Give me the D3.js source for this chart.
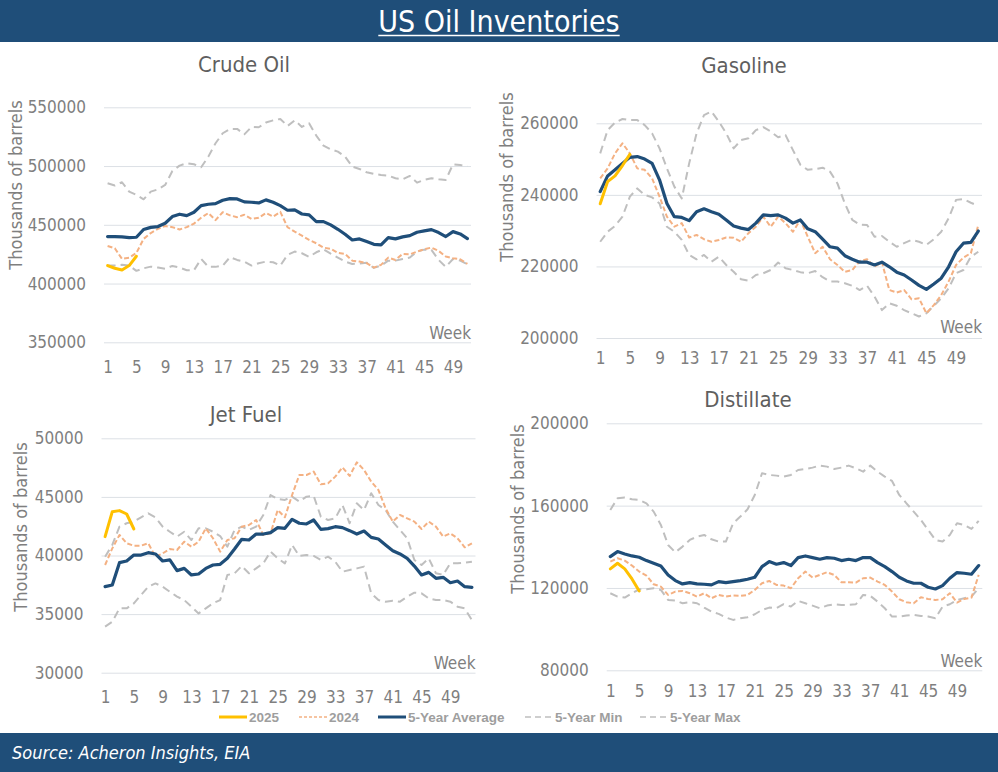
<!DOCTYPE html>
<html><head><meta charset="utf-8">
<script src="https://cdn.jsdelivr.net/npm/d3@7"></script>
<style>
html,body{margin:0;padding:0;background:#fff;}
svg{display:block;}
</style></head><body>
<svg id="chart" width="998" height="772"></svg>
<script>
// ---------------- DATA ----------------
const weeks51 = [1,2,3,4,5,6,7,8,9,10,11,12,13,14,15,16,17,18,19,20,21,22,23,24,25,26,27,28,29,30,31,32,33,34,35,36,37,38,39,40,41,42,43,44,45,46,47,48,49,50,51];
const weeks52 = [1,2,3,4,5,6,7,8,9,10,11,12,13,14,15,16,17,18,19,20,21,22,23,24,25,26,27,28,29,30,31,32,33,34,35,36,37,38,39,40,41,42,43,44,45,46,47,48,49,50,51,52];
const xTickLabels = [1,5,9,13,17,21,25,29,33,37,41,45,49];
const seriesNames = ["2025","2024","5-Year Average","5-Year Min","5-Year Max"];

// Crude Oil
const crudeYTicks = [350000,400000,450000,500000,550000];
const crude2025 = [415300,413000,411600,415300,423200];
const crude2024 = [432000,430000,421000,422000,426000,438000,443000,446500,449000,448000,
  446000,448000,451000,456000,460000,454000,460700,458000,456500,458500,
  455000,456000,460000,457000,461000,448000,444200,440800,437100,434300,
  430600,429500,426100,425200,419500,418700,417300,413600,415900,422100,
  420100,425200,424900,427200,429200,430600,427800,423000,421500,420700,416700];
const crudeAvg = [440000,440000,439700,439100,439400,446000,447800,448500,451300,457000,
  459000,457800,460700,466300,467500,468000,470900,472300,472000,469500,
  469200,468600,471200,469200,466300,462400,462700,459200,458400,452700,
  452700,449900,446200,442000,437100,438000,435700,433400,432900,439100,
  438000,439700,440800,443700,444800,445900,443400,440000,444200,442200,438300];
const crudeMin = [415300,415300,415900,415300,410800,413000,414400,413600,412500,415000,
  413600,411300,411300,421000,414200,414200,415300,422400,420100,418700,
  415300,417300,418700,418100,415300,424400,427200,425800,422700,426600,
  429200,425500,422100,418700,416700,417000,417800,413300,415300,419500,
  419500,420900,422100,427200,428900,428600,420100,414200,420900,419500,416400];
const crudeMax = [485300,483400,486200,478200,475400,471700,478200,480200,483900,495800,
  500400,502400,501500,499000,508000,519400,527900,531600,531600,527000,
  533300,533000,537000,538900,540100,534100,538900,533300,536400,525900,
  517400,514300,512300,508000,499500,497500,494700,493300,492400,491900,
  489600,488700,491600,485900,488200,489600,488700,488200,501500,500900,499800];

// Gasoline
const gasYTicks = [200000,220000,240000,260000];
const gas2025 = [237500,243700,245300,248200,251300];
const gas2024 = [244600,247400,251600,254400,251600,247400,247000,244600,239500,233900,
  231100,232100,228100,228800,227600,226900,227400,228100,228000,226900,
  229300,231100,233900,231100,233900,232100,229700,233000,228300,223700,
  225500,222000,220400,218500,219000,221500,222000,219900,221200,213400,
  212700,213400,210800,211100,206900,209200,212000,215800,220400,222500,
  223700,231600];
const gasAvg = [240900,245300,247000,248800,250500,250700,250000,248800,244200,237600,
  233900,233700,232800,235300,236100,235300,234600,233000,231300,230700,
  230300,232100,234400,234200,234400,233500,232100,233000,230500,229700,
  227600,225500,225100,223000,222000,221200,221200,220400,221200,219900,
  218400,217600,216200,214700,213600,215100,216700,219900,224100,226500,
  226700,229900];
const gasMin = [226900,229700,231300,233900,239500,241800,240000,239300,237600,231100,
  229700,227400,223200,222000,223200,221300,222700,220400,218500,216400,
  216000,217600,218100,219000,221100,219500,219000,218400,218100,218700,
  217000,215800,215800,215300,214600,213400,214600,211600,207800,209700,
  209000,207800,206900,206000,206900,209000,211100,213900,218100,219000,
  222700,224100];
const gasMax = [251600,258100,260200,261200,260900,260900,259500,257200,253000,247400,
  242300,239000,248800,257200,262300,263300,260500,257200,253000,255300,
  255800,258100,258900,257700,256100,256700,252500,248400,247000,247200,
  247600,246500,243200,237600,233000,231700,231600,228300,228500,226900,
  225500,226500,227400,226900,226000,227600,229700,233500,238600,238800,
  237800,236900];

// Jet Fuel
const jetYTicks = [30000,35000,40000,45000,50000];
const jet2025 = [41610,43740,43830,43540,42260];
const jet2024 = [39190,40610,41750,41040,40840,40840,41040,39900,40180,40550,
  40470,41180,40750,41180,42320,41470,40330,41320,41470,42460,
  42600,43030,41750,41890,43880,43260,45160,46870,46870,47160,
  46070,46160,46730,47520,46790,47950,47300,46300,45590,44030,
  42890,43460,43170,42890,42260,42890,42460,41610,41890,41470,
  40700,41040];
const jetAvg = [37340,37480,39390,39530,40040,40040,40240,40130,39530,39620,
  38710,38900,38340,38420,38900,39190,39250,39760,40550,41380,
  41320,41830,41830,41950,42380,42320,43090,42750,42690,43030,
  42230,42290,42460,42380,42120,41830,42090,41550,41410,40900,
  40410,40130,39760,39100,38340,38560,38050,38140,37680,37820,
  37340,37280];
const jetMin = [33930,34350,35490,35490,35920,36630,37340,37620,37340,36910,
  36490,36200,35630,35060,35490,35920,36200,38340,38480,39100,
  38480,38900,39330,40330,39760,39330,40900,39960,40040,39960,
  39620,39900,39470,38620,38760,38900,39050,36770,36200,36060,
  36140,36060,36490,36830,36770,36340,36200,36200,36060,35630,
  35490,34490];
const jetMax = [39900,40900,42460,42750,42890,43260,43600,43260,42460,42030,
  41610,42030,41320,42320,42320,42030,41660,40750,42180,42460,
  42180,42460,43460,45160,44820,44740,45020,44600,45020,45080,
  43310,43030,43170,44310,42750,44450,43880,45310,44310,43880,
  42890,42180,41470,39620,39190,39760,38480,38340,39330,39330,
  39390,39470];

// Distillate
const distYTicks = [80000,120000,160000,200000];
const dist2025 = [129250,132000,129250,124390,118560];
const dist2024 = [132810,134430,133300,130870,127950,126010,121800,120670,116620,118240,
  118560,117430,115810,117430,115000,116620,115810,116300,116130,116620,
  119050,122290,123420,121480,121150,119860,124720,127950,125040,126340,
  127630,126340,122770,122770,122610,124720,125040,123100,121480,118240,
  114520,113060,112570,115490,114680,114190,114520,117430,112900,114680,
  115330,126340];
const distAvg = [135240,137670,136530,135560,134920,133300,132000,130710,126340,123580,
  121960,122610,121960,121800,121480,123100,122610,123100,123580,124230,
  125200,130380,132810,131520,132330,130870,134760,135560,134760,133940,
  134760,134430,133300,133940,133300,134760,134760,132330,130380,127950,
  125200,123420,122290,122290,120340,119530,121150,124720,127470,127140,
  126660,130870];
const distMin = [117430,115810,115330,117430,119370,119370,119860,119050,114190,113870,
  112570,113060,112570,110470,108530,107400,105620,104480,105290,105780,
  107230,109340,110470,110150,112090,110960,113710,112570,111440,110150,
  111440,112090,111770,111770,112090,116620,116130,113380,110150,106100,
  106100,106590,106910,106420,106100,105290,110960,112090,114190,115000,
  115810,119860];
const distMax = [157910,163580,163900,163090,162760,161140,157100,150620,140910,137350,
  140100,143340,144950,145760,143660,142530,142530,151430,154670,158230,
  165190,175720,174910,174580,174100,174910,177330,177820,178470,179440,
  178950,177820,178470,179440,178140,176520,179440,176520,174100,172000,
  165190,161140,157100,153050,148190,143340,142530,145760,151430,150620,
  148680,152560];

// ---------------- STYLE ----------------
const COND = "'DejaVu Sans Condensed','DejaVu Sans',sans-serif";
const NAVY = "#1F4E79";
const styles = {
  "2025": {color:"#FFC000", width:3, dash:null},
  "2024": {color:"#F4B183", width:2, dash:"5,2.5"},
  "5-Year Average": {color:NAVY, width:3.2, dash:null},
  "5-Year Min": {color:"#BFBFBF", width:2, dash:"8,5"},
  "5-Year Max": {color:"#BFBFBF", width:2, dash:"8,5"}
};

const svg = d3.select("#chart");
svg.append("rect").attr("width",998).attr("height",772).attr("fill","#fff");

// header
svg.append("rect").attr("x",0).attr("y",0).attr("width",998).attr("height",42).attr("fill",NAVY);
const title = svg.append("text").attr("x",499).attr("y",32).attr("text-anchor","middle")
  .attr("font-family",COND).style("font-stretch","condensed").attr("font-size",30).attr("fill","#fff")
  .text("US Oil Inventories");
const tl = title.node().getComputedTextLength();
svg.append("line").attr("x1",499-tl/2).attr("x2",499+tl/2).attr("y1",35.5).attr("y2",35.5)
  .attr("stroke","#fff").attr("stroke-width",1.5);

// footer
svg.append("rect").attr("x",0).attr("y",733).attr("width",998).attr("height",39).attr("fill",NAVY);
svg.append("text").attr("x",12).attr("y",759).attr("font-family",COND).style("font-stretch","condensed")
  .attr("font-style","italic").attr("font-size",18).attr("fill","#fff").text("Source: Acheron Insights, EIA");

const panels = [
  {title:"Crude Oil", weeks:weeks51, yTicks:crudeYTicks,
   series:[crude2025,crude2024,crudeAvg,crudeMin,crudeMax],
   x0:104, x1:471, yTop:107.3, yBot:342.3, titleX:244, titleY:72, ylabX:15, ylabY:185, xPad:19, weekY:339},
  {title:"Gasoline", weeks:weeks52, yTicks:gasYTicks,
   series:[gas2025,gas2024,gasAvg,gasMin,gasMax],
   x0:596.5, x1:982, yTop:123.3, yBot:338, titleX:744, titleY:73, ylabX:506, ylabY:177, xPad:14, weekY:333},
  {title:"Jet Fuel", weeks:weeks52, yTicks:jetYTicks,
   series:[jet2025,jet2024,jetAvg,jetMin,jetMax],
   x0:101.5, x1:475.5, yTop:438.3, yBot:672.7, titleX:246, titleY:422, ylabX:20, ylabY:527, xPad:18, weekY:669},
  {title:"Distillate", weeks:weeks52, yTicks:distYTicks,
   series:[dist2025,dist2024,distAvg,distMin,distMax],
   x0:606.7, x1:982.3, yTop:423.3, yBot:670.3, titleX:748, titleY:407, ylabX:517, ylabY:509, xPad:15, weekY:667}
];

function drawPanel(p){
  const g = svg.append("g");
  const x = d3.scalePoint().domain(p.weeks).range([p.x0,p.x1]).padding(0.5);
  const y = d3.scaleLinear().domain([p.yTicks[0], p.yTicks[p.yTicks.length-1]]).range([p.yBot,p.yTop]);

  const ya = g.append("g").attr("transform",`translate(${p.x0},0)`)
    .call(d3.axisLeft(y).tickValues(p.yTicks).tickSize(-(p.x1-p.x0)).tickPadding(18).tickFormat(d3.format("d")));
  ya.select(".domain").remove();
  ya.selectAll(".tick line").attr("stroke","#DCE0E5").attr("stroke-width",1);
  ya.attr("font-family",COND).attr("font-size",17).style("font-stretch","condensed");
  ya.selectAll(".tick text").attr("fill","#7F7F7F");

  const xa = g.append("g").attr("transform",`translate(0,${p.yBot})`)
    .call(d3.axisBottom(x).tickValues(xTickLabels).tickSize(0).tickPadding(p.xPad));
  xa.select(".domain").remove();
  xa.attr("font-family",COND).attr("font-size",17).style("font-stretch","condensed");
  xa.selectAll(".tick text").attr("fill","#7F7F7F");

  g.append("text").attr("x",p.titleX).attr("y",p.titleY).attr("text-anchor","middle")
    .attr("font-family",COND).style("font-stretch","condensed").attr("font-size",22).attr("fill","#5F5F5F").text(p.title);
  g.append("text").attr("transform",`translate(${p.ylabX},${p.ylabY}) rotate(-90)`)
    .attr("text-anchor","middle").attr("dominant-baseline","central")
    .attr("font-family",COND).style("font-stretch","condensed").attr("font-size",18).attr("fill","#7F7F7F")
    .text("Thousands of barrels");
  g.append("text").attr("x",p.x1).attr("y",p.weekY).attr("text-anchor","end")
    .attr("font-family",COND).style("font-stretch","condensed").attr("font-size",17).attr("fill","#7F7F7F").text("Week");

  const line = d3.line().x((d,i)=>x(p.weeks[i])).y(d=>y(d));
  const order = [4,3,1,2,0];
  order.forEach(si=>{
    const st = styles[seriesNames[si]];
    g.append("path").datum(p.series[si]).attr("d",line)
      .attr("fill","none").attr("stroke",st.color).attr("stroke-width",st.width)
      .attr("stroke-dasharray",st.dash).attr("stroke-linejoin","round")
      .attr("stroke-linecap", st.dash ? "butt" : "round");
  });
}
panels.forEach(drawPanel);

// legend
const legendPos = [219, 299, 378, 525, 640];
const lg = svg.append("g");
seriesNames.forEach((name,i)=>{
  const st = styles[name];
  const lx = legendPos[i];
  lg.append("line").attr("x1",lx).attr("x2",lx+28).attr("y1",717).attr("y2",717)
    .attr("stroke",st.color).attr("stroke-width",st.dash? 1.5 : 3).attr("stroke-dasharray", st.dash ? (name==="2024"?"3,2":"6,4") : null);
  lg.append("text").attr("x",lx+30).attr("y",722).attr("font-family","'Liberation Sans',Arial,sans-serif")
    .attr("font-weight","bold").attr("font-size",13.5).attr("fill","#9E9E9E").text(name);
});
</script>
</body></html>
